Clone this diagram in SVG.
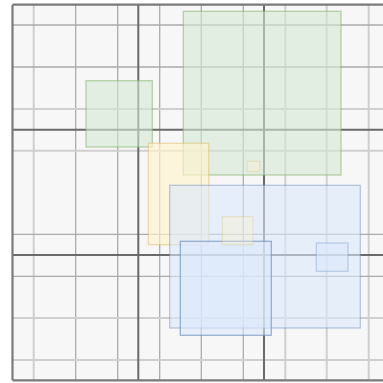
<svg xmlns="http://www.w3.org/2000/svg" width="383" height="383" viewBox="0 0 383 383">
<style>
.bg{fill:#f7f7f7}
.ga{stroke:#ababab;stroke-width:1.3;fill:none}
.gb{stroke:#cfcfcf;stroke-width:2;fill:none}
.maj{stroke:#6a6a6a;stroke-width:2;fill:none}
.brd{stroke:#7a7a7a;stroke-width:2.2;fill:none}
.green{fill:#d5e8d4;fill-opacity:0.6;stroke:#82b366;stroke-opacity:0.55;stroke-width:1.3}
.yellow{fill:#fff2cc;fill-opacity:0.65;stroke:#d6b656;stroke-opacity:0.45;stroke-width:1.3}
.blue{fill:#dae8fc;fill-opacity:0.6;stroke:#6c8ebf;stroke-opacity:0.45;stroke-width:1.3}
.blue2{fill:#dae8fc;fill-opacity:0.6;stroke:#6c8ebf;stroke-opacity:0.65;stroke-width:1.3}
.ysm{fill:#fff2cc;fill-opacity:0.35;stroke:#d6b656;stroke-opacity:0.25;stroke-width:1.3}
.bsm{fill:#dae8fc;fill-opacity:0.6;stroke:#6c8ebf;stroke-opacity:0.35;stroke-width:1.3}
</style>
<rect class="bg" x="12.5" y="4.7" width="371" height="375.6"/>
<g id="grid">
<line class="gb" x1="33.7" y1="4.7" x2="33.7" y2="380.3"/>
<line class="ga" x1="75.7" y1="4.7" x2="75.7" y2="380.3"/>
<line class="ga" x1="117.7" y1="4.7" x2="117.7" y2="380.3"/>
<line class="ga" x1="159.7" y1="4.7" x2="159.7" y2="380.3"/>
<line class="ga" x1="201.3" y1="4.7" x2="201.3" y2="380.3"/>
<line class="ga" x1="243.3" y1="4.7" x2="243.3" y2="380.3"/>
<line class="gb" x1="285.3" y1="4.7" x2="285.3" y2="380.3"/>
<line class="gb" x1="326.7" y1="4.7" x2="326.7" y2="380.3"/>
<line class="gb" x1="368.7" y1="4.7" x2="368.7" y2="380.3"/>
<line class="ga" x1="12.5" y1="25" x2="383" y2="25"/>
<line class="ga" x1="12.5" y1="67" x2="383" y2="67"/>
<line class="gb" x1="12.5" y1="109" x2="383" y2="109"/>
<line class="gb" x1="12.5" y1="150.7" x2="383" y2="150.7"/>
<line class="ga" x1="12.5" y1="234.3" x2="383" y2="234.3"/>
<line class="ga" x1="12.5" y1="276.3" x2="383" y2="276.3"/>
<line class="gb" x1="12.5" y1="318" x2="383" y2="318"/>
<line class="gb" x1="12.5" y1="360" x2="383" y2="360"/>
<line class="maj" x1="138.3" y1="4.7" x2="138.3" y2="380.3"/>
<line class="maj" x1="264" y1="4.7" x2="264" y2="380.3"/>
<line class="maj" x1="12.5" y1="129.7" x2="383" y2="129.7"/>
<line class="maj" x1="12.5" y1="255" x2="383" y2="255"/>
<line class="brd" x1="12.5" y1="4.7" x2="12.5" y2="380.3"/>
<line class="brd" x1="12.5" y1="4.7" x2="383" y2="4.7"/>
<line class="brd" x1="12.5" y1="380.3" x2="383" y2="380.3"/>
</g>
<g id="green-small"><rect class="green" x="86" y="80.7" width="66.3" height="66.3"/></g>
<g id="green-large"><rect class="green" x="183.3" y="11.3" width="157.7" height="163.7"/></g>
<g id="green-inner"><rect class="ysm" x="247.5" y="161.3" width="12.3" height="10.2"/></g>
<g id="yellow"><rect class="yellow" x="148.3" y="143.3" width="60.4" height="101.4"/></g>
<g id="blue-large"><rect class="blue" x="169.7" y="185.3" width="190.6" height="142.7"/></g>
<g id="blue-second"><rect class="blue2" x="180.3" y="241.3" width="91" height="94"/></g>
<g id="beige-small"><rect class="ysm" x="222.3" y="216.7" width="30.7" height="28"/></g>
<g id="blue-small"><rect class="bsm" x="316.3" y="243" width="31.7" height="28.3"/></g>
<g id="connectors"/>
</svg>
